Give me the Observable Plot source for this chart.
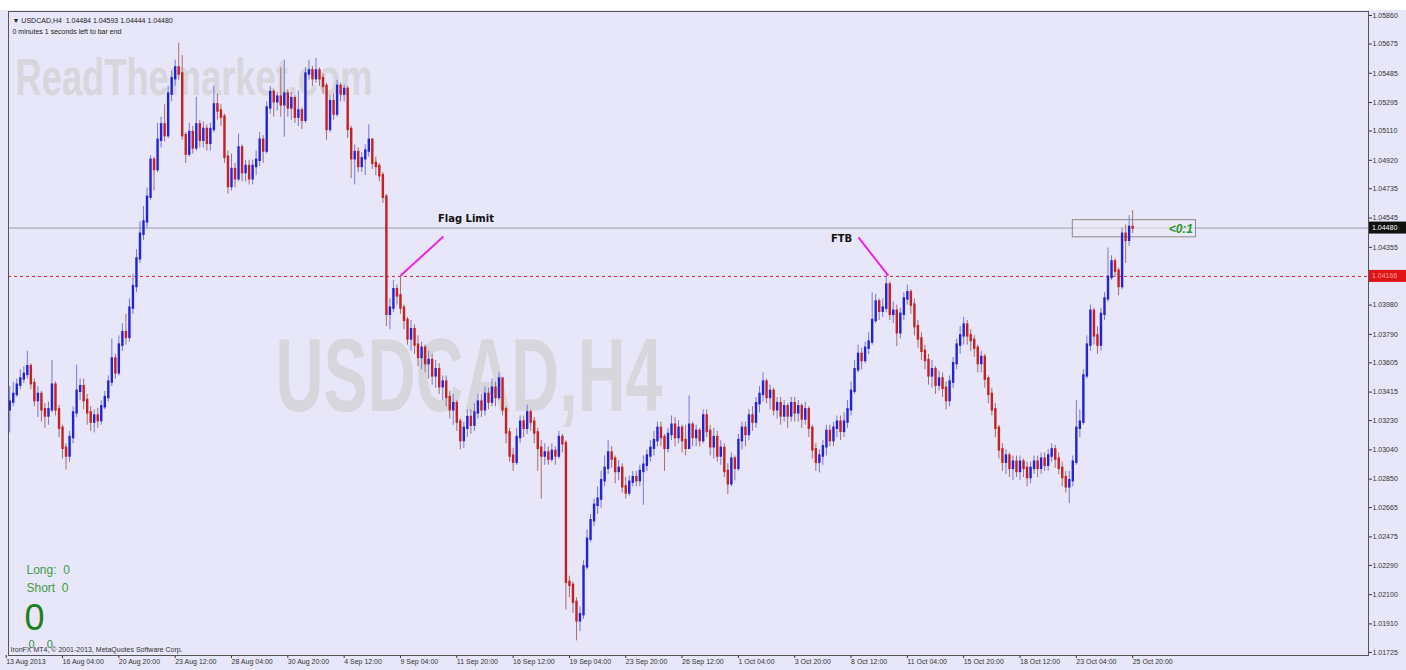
<!DOCTYPE html>
<html><head><meta charset="utf-8">
<script src="https://cdn.jsdelivr.net/npm/d3@7"></script>
<script src="https://cdn.jsdelivr.net/npm/@observablehq/plot@0.6"></script>
<style>html,body{margin:0;padding:0;background:#fff;overflow:hidden}</style>
</head><body><div id="chart"></div>
<script>
// ---- DATA (prices in pips above 1.0000, i.e. price = 1 + v/10000) ----
const firstBar = 1;            // bar index of first candle (13 Aug 2013 16:00)
const firstOpenPips = 330;
const closePips = [
335,340,346,350,353,358,347,336,340,330,
326,330,346,330,318,305,300,312,328,342,
345,336,328,322,326,323,332,338,348,363,
354,372,380,377,396,410,428,444,452,468,
492,486,505,515,508,535,545,552,548,508,
496,510,500,515,505,512,503,512,528,524,
520,494,475,486,480,500,484,488,480,488,
492,505,498,526,536,530,533,528,535,526,
532,520,524,518,548,550,545,550,545,540,
512,530,522,540,535,538,512,493,497,488,
493,498,505,490,488,482,468,392,396,408,
404,396,388,376,382,372,364,370,360,362,
352,356,345,348,338,330,334,322,310,318,
325,320,328,335,330,340,335,344,338,350,
330,315,300,296,312,322,318,328,322,315,
305,300,302,298,303,300,312,308,218,216,
205,193,197,228,246,258,268,272,284,292,
302,298,290,292,280,276,283,286,284,290,
294,300,305,310,318,312,305,314,320,312,
318,310,305,320,312,316,310,326,316,306,
312,300,305,290,282,298,292,310,318,314,
326,322,334,340,348,338,342,330,334,326,
332,326,334,328,332,324,330,318,304,296,
300,306,316,310,318,322,316,322,330,342,
356,366,362,370,374,388,400,394,396,411,
392,394,380,392,402,406,398,384,376,368,
362,352,356,346,350,344,336,348,360,372,
378,385,378,375,370,360,364,350,340,330,
318,304,296,300,292,296,290,296,292,286,
292,296,292,298,294,300,304,298,292,286,
280,284,296,318,322,352,372,394,378,372,
392,402,416,426,420,410,444,440,448.4,448
];
const highPips = [
345,348,350,356,358,368,360,350,345,342,
334,335,362,348,333,320,308,316,332,359,
350,350,340,332,330,331,336,342,352,376,
366,378,386,392,402,418,434,452,462,474,
495,494,516,520,528,540,550,557,568,560,
510,516,514,533,518,517,515,516,540,535,
528,522,498,496,490,509,502,492,492,492,
498,510,508,530,540,538,536,552,557,538,
536,534,537,526,552,557,553,558,552,548,
542,534,535,544,542,541,540,514,502,500,
497,502,515,506,494,490,484,470,402,414,
411,417,398,390,388,385,378,374,372,368,
366,362,360,352,352,342,340,336,324,322,
330,330,334,340,340,345,344,350,348,354,
350,332,318,305,318,326,326,333,330,325,
318,310,308,306,308,306,316,314,310,222,
218,208,202,232,252,262,272,280,290,300,
310,306,300,297,295,286,287,290,290,294,
300,304,310,316,322,322,314,318,326,325,
323,320,320,339,322,320,318,330,330,320,
318,316,310,308,295,302,300,314,322,322,
330,332,338,345,354,350,346,344,338,338,
336,334,338,338,336,334,335,332,320,308,
304,310,320,320,322,326,326,328,336,348,
362,372,370,374,380,406,405,402,402,417,
413,400,398,396,406,411,408,402,388,380,
372,366,362,358,355,354,348,352,364,376,
384,390,388,382,378,372,368,366,352,344,
334,320,308,304,302,300,300,300,298,296,
296,300,300,302,302,304,308,307,302,296,
290,290,300,336,330,356,378,398,396,384,
396,406,435,430,428,422,448,450,456,459.3
];
const lowPips = [
315,332,338,343,347,350,343,332,325,322,
318,320,328,326,312,298,291,296,308,325,
336,330,320,316,315,318,320,330,335,345,
350,352,368,372,374,392,406,425,440,448,
466,472,484,500,504,506,530,540,544,505,
490,494,496,498,500,500,498,498,510,518,
514,490,470,472,474,478,478,478,476,476,
482,488,490,496,522,520,524,520,507,520,
518,516,514,512,516,544,540,542,540,535,
505,510,518,520,530,530,506,480,476,484,
484,482,494,486,482,478,464,384,382,393,
398,392,382,372,368,366,358,356,354,350,
346,344,340,336,332,324,320,316,304,305,
312,314,316,324,325,326,330,332,332,336,
326,308,296,290,294,308,312,314,316,308,
290,272,294,294,296,294,298,302,200,208,
198,180,186,194,226,244,254,262,266,280,
288,292,282,284,276,272,274,280,280,280,
268,290,296,300,306,306,290,302,310,306,
308,302,300,304,306,306,306,308,312,300,
298,296,294,286,275,280,284,290,304,306,
310,316,318,328,335,334,330,326,324,320,
322,318,322,322,322,318,320,312,298,290,
289,294,300,306,306,312,310,312,318,326,
340,354,356,360,366,372,386,388,390,393,
388,386,371,376,388,398,392,378,370,362,
356,346,344,340,342,338,330,332,344,356,
366,372,372,368,364,354,354,344,334,326,
312,298,290,288,286,284,286,284,286,280,
282,288,286,288,290,290,296,292,288,280,
276,269,280,294,312,320,350,368,372,366,
368,388,400,414,416,404,408,425,436,444.4
];

const yTickValues = [1.05860,1.05675,1.05485,1.05295,1.05110,1.04920,1.04735,1.04545,1.04355,
  1.03980,1.03790,1.03605,1.03415,1.03230,1.03040,1.02850,1.02665,1.02475,1.02290,1.02100,1.01910,1.01725];
const xTickBars = [0,16,32,48,64,80,96,112,128,144,160,176,192,208,224,240,256,272,288,304,320];
const xTickLabels = ["13 Aug 2013","16 Aug 04:00","20 Aug 20:00","23 Aug 12:00","28 Aug 04:00","30 Aug 20:00",
  "4 Sep 12:00","9 Sep 04:00","11 Sep 20:00","16 Sep 12:00","19 Sep 04:00","23 Sep 20:00","26 Sep 12:00",
  "1 Oct 04:00","3 Oct 20:00","8 Oct 12:00","11 Oct 04:00","15 Oct 20:00","18 Oct 12:00","23 Oct 04:00","25 Oct 20:00"];

const currentPrice = 1.04480;
const flagLevel = 1.04166;
const headerLine1 = "\u25BC USDCAD,H4  1.04484 1.04593 1.04444 1.04480";
const headerLine2 = "0 minutes 1 seconds left to bar end";
const watermarkSite = "ReadThemarket.com";
const watermarkSymbol = "USDCAD,H4";
const copyright = "IronFX MT4, \u00A9 2001-2013, MetaQuotes Software Corp.";
const tradeLabels = ["Long:  0", "Short  0"];
const tradeCount = "0";
const tradeSub = "0    0";

const annotationLabels = [
  {label: "Flag Limit", bar: 130.6, price: 1.04540},
  {label: "FTB", bar: 237.3, price: 1.04410}
];
const annotationLines = [
  {fromBar: 112, fromPrice: 1.04170, toBar: 124.2, toPrice: 1.04425},
  {fromBar: 242.1, fromPrice: 1.04419, toBar: 250.6, toPrice: 1.04172}
];
const timerBox = {fromBar: 303, toBar: 338, low: 1.04420, high: 1.04531, label: "<0:1"};

// ---- BUILD ----
const toPrice = v => 1 + v / 10000;
const bars = closePips.map((c, k) => ({
  i: firstBar + k,
  o: toPrice(k === 0 ? firstOpenPips : closePips[k - 1]),
  c: toPrice(c),
  h: toPrice(highPips[k]),
  l: toPrice(lowPips[k])
}));
const labelMap = new Map(xTickBars.map((b, k) => [b, xTickLabels[k]]));

const BULL = "#2323d6", BEAR = "#c62020";
const BULL_WICK = "#7676e0", BEAR_WICK = "#ae6a6a";
const WM = "#d6d6dc";
const BOLD_FONT = "'DejaVu Sans', 'Liberation Sans', sans-serif";

const frameText = (txt, anchor, dx, dy, opts) =>
  Plot.text([txt], {text: d => d, frameAnchor: anchor, dx, dy, textAnchor: "start", lineAnchor: "middle", ...opts});

const plot = Plot.plot({
  width: 1406, height: 670,
  marginTop: 11, marginBottom: 15, marginLeft: 8, marginRight: 38,
  style: {background: "#e7e7f9", fontFamily: "'Liberation Sans', 'DejaVu Sans', sans-serif", overflow: "visible"},
  x: {domain: [0.65, 387], axis: null},
  y: {domain: [1.01705, 1.05886], axis: null},
  marks: [
    frameText(watermarkSite, "top-left", 7, 67, {fontSize: 52, fontWeight: "bold", fill: WM}),
    frameText(watermarkSymbol, "top-left", 267, 366, {fontSize: 104, fontWeight: "bold", fill: WM}),
    Plot.ruleY([currentPrice], {stroke: "#9c9ca8", strokeWidth: 1}),
    Plot.ruleY([flagLevel], {stroke: "#e02424", strokeWidth: 1, strokeDasharray: "3,3"}),
    Plot.rect([timerBox], {x1: "fromBar", x2: "toBar", y1: "low", y2: "high", fill: "#ecebf5", fillOpacity: 0.6, stroke: "#8a8a8a", strokeWidth: 1}),
    Plot.text([timerBox], {x: "toBar", y: d => (d.low + d.high) / 2, text: "label", textAnchor: "end", dx: -3,
      fill: "#2a9a2a", fontWeight: "bold", fontStyle: "italic", fontSize: 12}),
    Plot.ruleX(bars, {x: "i", y1: "l", y2: "h", stroke: d => d.c >= d.o ? BULL_WICK : BEAR_WICK, strokeWidth: 1}),
    Plot.ruleX(bars, {x: "i", y1: "o", y2: "c", stroke: d => d.c >= d.o ? BULL : BEAR, strokeWidth: 2.4, strokeLinecap: "square"}),
    Plot.link(annotationLines, {x1: "fromBar", y1: "fromPrice", x2: "toBar", y2: "toPrice", stroke: "#ee22ee", strokeWidth: 2}),
    Plot.text(annotationLabels, {x: "bar", y: "price", text: "label", fontWeight: "bold", fontSize: 10, fontFamily: BOLD_FONT, fill: "#111"}),
    frameText(headerLine1, "top-left", 4, 9, {fontSize: 7, fill: "#222"}),
    frameText(headerLine2, "top-left", 4, 20, {fontSize: 7, fill: "#222"}),
    Plot.axisY(yTickValues, {anchor: "right", tickFormat: d => d.toFixed(5), tickSize: 3, tickPadding: 1, fontSize: 7, color: "#333"}),
    Plot.axisX(xTickBars, {anchor: "bottom", tickFormat: d => labelMap.get(d), textAnchor: "start", tickSize: 3, tickPadding: 1, fontSize: 7, color: "#333"}),
    frameText(tradeLabels[0], "bottom-left", 18, -85, {fontSize: 12, fill: "#3f9a3f"}),
    frameText(tradeLabels[1], "bottom-left", 18, -67, {fontSize: 12, fill: "#3f9a3f"}),
    frameText(tradeCount, "bottom-left", 16, -37, {fontSize: 36, fill: "#1f7f1f"}),
    frameText(tradeSub, "bottom-left", 20, -11, {fontSize: 11, fill: "#3f8a3f"}),
    frameText(copyright, "bottom-left", 2, -6, {fontSize: 7, fill: "#333"}),
    Plot.frame({stroke: "#555"})
  ]
});

document.getElementById("chart").appendChild(plot);

const svg = d3.select(plot);
svg.selectAll("text").filter(function() { return this.textContent === watermarkSite; })
  .attr("textLength", 357).attr("lengthAdjust", "spacingAndGlyphs");
svg.selectAll("text").filter(function() { return this.textContent === watermarkSymbol; })
  .attr("textLength", 387).attr("lengthAdjust", "spacingAndGlyphs");

// white strip above the chart window
svg.insert("rect", "g").attr("x", 0).attr("y", 0).attr("width", 1406).attr("height", 10).attr("fill", "#ffffff");

// price boxes on the right axis, placed with the plot's own y scale
const ys = plot.scale("y");
const axisX0 = 1406 - 38 + 1;
function priceBox(price, fill, textFill) {
  const py = ys.apply(price);
  svg.append("rect").attr("x", axisX0).attr("y", py - 6).attr("width", 37).attr("height", 12).attr("fill", fill);
  svg.append("text").attr("x", axisX0 + 3).attr("y", py).attr("dy", "0.32em").attr("text-anchor", "start")
    .attr("font-size", 7).attr("fill", textFill).text(price.toFixed(5));
}
priceBox(currentPrice, "#111", "#fff");
priceBox(flagLevel, "#e01414", "#f6a0a0");
</script></body></html>
